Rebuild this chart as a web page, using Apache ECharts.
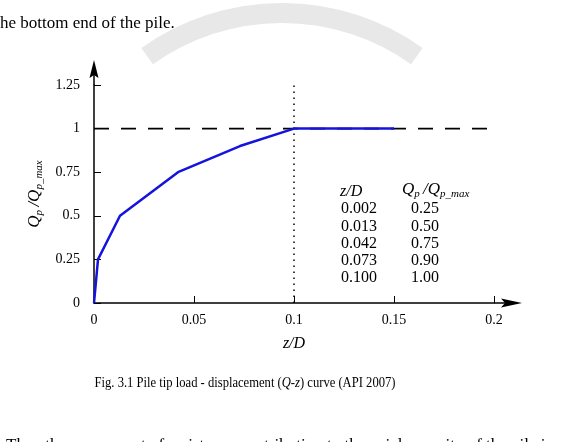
<!DOCTYPE html>
<html>
<head>
<meta charset="utf-8">
<script src="https://cdn.jsdelivr.net/npm/echarts@6/dist/echarts.min.js"></script>
<style>
  html, body { margin: 0; padding: 0; background: #fff; }
  #chart { width: 564px; height: 442px; }
</style>
</head>
<body>
<div id="chart"></div>
<script>
// Q-z curve, API 2007
var zD = [0, 0.002, 0.013, 0.042, 0.073, 0.1, 0.15];
var qRatio = [0, 0.25, 0.5, 0.75, 0.9, 1, 1];
var tableIdx = [1, 2, 3, 4, 5]; // points listed in the inset table
var xRange = [0, 0.2];
var yRange = [0, 1.25];
var capLevel = 1;   // dashed line
var peakZ = 0.1;    // dotted line

var serif = '"Liberation Serif", "DejaVu Serif", serif';
var chart = echarts.init(document.getElementById("chart"));

var curve = zD.map(function (x, i) {
  return [x, qRatio[i]];
});

// rich text for Qp /Qp_max
var qRich = {
  q: { fontFamily: serif, fontStyle: "italic", fontSize: 17, color: "#000" },
  s: { fontFamily: serif, fontStyle: "italic", fontSize: 11, color: "#000", padding: [9, 0, 0, 0] },
};
var qText = "{q|Q}{s|p} {q|/Q}{s|p_max}";

var option = {
  animation: false,
  backgroundColor: "#fff",
  grid: { left: 94, top: 85, width: 400, height: 218 },
  xAxis: {
    type: "value",
    min: xRange[0],
    max: xRange[1],
    interval: 0.05,
    name: "z/D",
    nameLocation: "middle",
    nameGap: 33,
    nameTextStyle: { fontFamily: serif, fontStyle: "italic", fontSize: 16, color: "#000" },
    axisLine: { lineStyle: { color: "#000", width: 1.5 } },
    axisTick: { inside: true, length: 7, lineStyle: { color: "#000", width: 1 } },
    axisLabel: { fontFamily: serif, fontSize: 14, color: "#000", margin: 10 },
    splitLine: { show: false },
  },
  yAxis: {
    type: "value",
    min: yRange[0],
    max: yRange[1],
    interval: 0.25,
    name: qText,
    nameLocation: "middle",
    nameRotate: 90,
    nameGap: 48,
    nameTextStyle: { rich: qRich },
    axisLine: { lineStyle: { color: "#000", width: 1.5 } },
    axisTick: { inside: true, length: 7, lineStyle: { color: "#000", width: 1 } },
    axisLabel: { fontFamily: serif, fontSize: 14, color: "#000", margin: 14 },
    splitLine: { show: false },
  },
  series: [
    {
      name: "cap",
      type: "line",
      data: [[xRange[0], capLevel], [xRange[1], capLevel]],
      symbol: "none",
      lineStyle: { color: "#000", width: 1.6, type: [15, 12] },
      z: 2,
    },
    {
      name: "peak",
      type: "line",
      data: [[peakZ, yRange[0]], [peakZ, yRange[1]]],
      symbol: "none",
      lineStyle: { color: "#000", width: 1.5, type: [1.5, 4.5] },
      z: 2,
    },
    {
      name: "Q-z",
      type: "line",
      data: curve,
      symbol: "none",
      lineStyle: { color: "#1414dc", width: 2.5 },
      z: 3,
    },
  ],
};
chart.setOption(option);

// decorations: page text, watermark, inset table, axis arrows
var xEnd = chart.convertToPixel({ gridIndex: 0 }, [xRange[1], 0]);
var yEnd = chart.convertToPixel({ gridIndex: 0 }, [0, yRange[1]]);
var g = [];

g.push({
  type: "arc",
  silent: true,
  z: -10,
  shape: { cx: 282, cy: 245, r: 232, startAngle: -Math.PI / 2 - 0.62, endAngle: -Math.PI / 2 + 0.62 },
  style: { stroke: "#e8e8e8", lineWidth: 20, fill: null },
});

g.push({
  type: "text",
  style: { x: 0, y: 24, text: "he bottom end of the pile.", font: "17px " + serif, fill: "#000", verticalAlign: "middle" },
});
g.push({
  type: "text",
  x: 245,
  y: 383,
  scaleX: 0.9,
  style: {
    x: 0, y: 0, align: "center", verticalAlign: "middle",
    text: "Fig. 3.1 Pile tip load - displacement ({i|Q}-{i|z}) curve (API 2007)",
    font: "14px " + serif, fill: "#000",
    rich: { i: { fontFamily: serif, fontStyle: "italic", fontSize: 14, color: "#000" } },
  },
});
g.push({
  type: "text",
  style: {
    x: 6, y: 446, verticalAlign: "middle",
    text: "Then the component of resistance contribution to the axial capacity of the pile is",
    font: "17px " + serif, fill: "#000",
  },
});

// inset table
g.push({
  type: "text",
  style: { x: 340, y: 192, verticalAlign: "middle", text: "z/D", font: "italic 16px " + serif, fill: "#000" },
});
g.push({
  type: "text",
  style: { x: 402, y: 190, verticalAlign: "middle", text: qText, rich: qRich },
});
tableIdx.forEach(function (k, r) {
  var y = 209 + r * 17.3;
  g.push({
    type: "text",
    style: { x: 341, y: y, verticalAlign: "middle", text: zD[k].toFixed(3), font: "16px " + serif, fill: "#000" },
  });
  g.push({
    type: "text",
    style: { x: 411, y: y, verticalAlign: "middle", text: qRatio[k].toFixed(2), font: "16px " + serif, fill: "#000" },
  });
});

// axis arrows
g.push({
  type: "line",
  shape: { x1: xEnd[0], y1: xEnd[1], x2: xEnd[0] + 14, y2: xEnd[1] },
  style: { stroke: "#000", lineWidth: 1.5 },
});
g.push({
  type: "polygon",
  shape: { points: [[xEnd[0] + 7, xEnd[1] - 4.5], [xEnd[0] + 28, xEnd[1]], [xEnd[0] + 7, xEnd[1] + 4.5], [xEnd[0] + 11, xEnd[1]]] },
  style: { fill: "#000" },
});
g.push({
  type: "line",
  shape: { x1: yEnd[0], y1: yEnd[1], x2: yEnd[0], y2: yEnd[1] - 12 },
  style: { stroke: "#000", lineWidth: 1.5 },
});
g.push({
  type: "polygon",
  shape: { points: [[yEnd[0] - 4.5, yEnd[1] - 7], [yEnd[0], yEnd[1] - 25], [yEnd[0] + 4.5, yEnd[1] - 7], [yEnd[0], yEnd[1] - 10]] },
  style: { fill: "#000" },
});

chart.setOption({ graphic: g });
</script>
</body>
</html>
